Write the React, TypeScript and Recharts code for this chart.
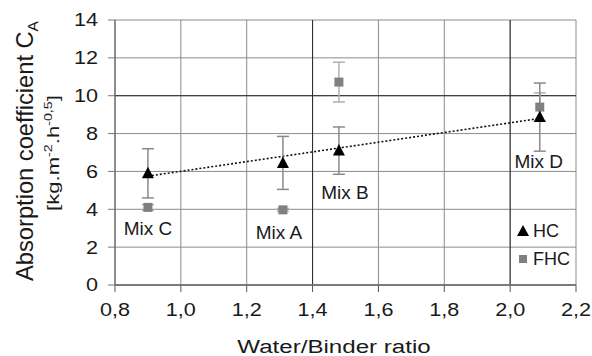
import React from "react";
import {
  ScatterChart,
  Scatter,
  XAxis,
  YAxis,
  CartesianGrid,
  ErrorBar,
  ReferenceLine,
} from "recharts";

// ---- data ----
const mixes = ["Mix C", "Mix A", "Mix B", "Mix D"];
const waterBinder = [0.9, 1.31, 1.48, 2.09];
const hcValues = [5.9, 6.45, 7.1, 8.87];
const hcErrors = [1.3, 1.4, 1.25, 1.8];
const fhcValues = [4.1, 3.97, 10.72, 9.4];
const fhcErrors = [0.15, 0.08, 1.05, 0.75];
const trendStart = { x: 0.9, y: 5.75 };
const trendEnd = { x: 2.09, y: 8.8 };
const xTicks = [0.8, 1.0, 1.2, 1.4, 1.6, 1.8, 2.0, 2.2];
const yTicks = [0, 2, 4, 6, 8, 10, 12, 14];
const seriesNames = ["HC", "FHC"];

const hcData = waterBinder.map((x, i) => ({ x, y: hcValues[i], err: hcErrors[i], name: mixes[i] }));
const fhcData = waterBinder.map((x, i) => ({ x, y: fhcValues[i], err: fhcErrors[i], name: mixes[i] }));

// ---- styles ----
const FONT = "'Liberation Sans', Arial, Helvetica, sans-serif";
const TEXT = "#1a1a1a";
const labelOffsets: Record<string, [number, number]> = {
  "Mix C": [0, 62],
  "Mix A": [-4, 76],
  "Mix B": [6, 48],
  "Mix D": [-1, 51],
};

const YTick = (p: any) => (
  <g transform={`translate(${p.x},${p.y})`}>
    <text transform="scale(1.2,1)" textAnchor="end" dy="0.36em" fontSize={18} fill={TEXT} fontFamily={FONT}>
      {p.payload.value}
    </text>
  </g>
);

const XTick = (p: any) => (
  <g transform={`translate(${p.x},${p.y})`}>
    <text transform="scale(1.2,1)" textAnchor="middle" dy="0.71em" fontSize={18} fill={TEXT} fontFamily={FONT}>
      {Number(p.payload.value).toFixed(1).replace(".", ",")}
    </text>
  </g>
);

const XTitle = () => (
  <text
    transform="translate(334,353) scale(1.27,1)"
    textAnchor="middle"
    fontSize={19}
    fill={TEXT}
    fontFamily={FONT}
  >
    Water/Binder ratio
  </text>
);

const YTitle = () => (
  <g fontFamily={FONT} fill={TEXT}>
    <text transform="translate(33,151) rotate(-90) scale(1.03,1)" textAnchor="middle" fontSize={23}>
      Absorption coefficient C
      <tspan fontSize={15} dy={5}>A</tspan>
    </text>
    <text transform="translate(59,153) rotate(-90) scale(1.3,1)" textAnchor="middle" fontSize={17}>
      [kg.m
      <tspan fontSize={11} dy={-7}>-2</tspan>
      <tspan dy={7}>.h</tspan>
      <tspan fontSize={11} dy={-7}>-0,5</tspan>
      <tspan dy={7}>]</tspan>
    </text>
  </g>
);

const TriangleShape = (p: any) => {
  const { cx, cy, payload } = p;
  const off = labelOffsets[payload.name] || [0, 40];
  return (
    <g>
      <polygon points={`${cx},${cy - 6.5} ${cx - 6},${cy + 5} ${cx + 6},${cy + 5}`} fill="#000" />
      <text
        x={cx + off[0]}
        y={cy + off[1]}
        textAnchor="middle"
        fontSize={19}
        fill={TEXT}
        fontFamily={FONT}
      >
        {payload.name}
      </text>
    </g>
  );
};

const SquareShape = (p: any) => {
  const { cx, cy } = p;
  return <rect x={cx - 4.5} y={cy - 4.5} width={9} height={9} fill="#808080" />;
};

const LegendBox = () => (
  <div
    style={{
      position: "absolute",
      left: 516,
      top: 217,
      fontFamily: FONT,
      fontSize: 18,
      color: TEXT,
      lineHeight: "20px",
    }}
  >
    <div style={{ display: "flex", alignItems: "center", height: 28 }}>
      <svg width={14} height={14} style={{ marginRight: 3 }}>
        <polygon points="7,1 1,12 13,12" fill="#000" />
      </svg>
      <span>{seriesNames[0]}</span>
    </div>
    <div style={{ display: "flex", alignItems: "center", height: 28 }}>
      <svg width={14} height={14} style={{ marginRight: 3 }}>
        <rect x={3} y={3} width={8} height={8} fill="#808080" />
      </svg>
      <span>{seriesNames[1]}</span>
    </div>
  </div>
);

export default function App() {
  return (
    <div style={{ position: "absolute", left: 0, top: 0, width: 592, height: 356, background: "#fff" }}>
      <ScatterChart width={592} height={356} margin={{ top: 20, right: 16, bottom: 41, left: 55 }}>
        <CartesianGrid stroke="#8c8c8c" strokeWidth={1} />
        <ReferenceLine y={10} stroke="#2a2a2a" strokeWidth={1} />
        <ReferenceLine x={1.4} stroke="#2a2a2a" strokeWidth={1} />
        <ReferenceLine x={2.0} stroke="#2a2a2a" strokeWidth={1} />
        <XAxis
          type="number"
          dataKey="x"
          domain={[0.8, 2.2]}
          ticks={xTicks}
          height={30}
          allowDataOverflow
          axisLine={{ stroke: "#7a7a7a", strokeWidth: 2 }}
          tickLine={{ stroke: "#555" }}
          tickSize={7}
          tickMargin={11}
          tick={<XTick />}
          label={{ content: <XTitle /> }}
        />
        <YAxis
          type="number"
          dataKey="y"
          domain={[0, 14]}
          ticks={yTicks}
          width={60}
          allowDataOverflow
          axisLine={{ stroke: "#555" }}
          tickLine={{ stroke: "#777" }}
          tickSize={7}
          tickMargin={10}
          tick={<YTick />}
          label={{ content: <YTitle /> }}
        />
        <ReferenceLine
          segment={[trendStart, trendEnd]}
          stroke="#111"
          strokeWidth={1.6}
          strokeDasharray="2 2"
        />
        <Scatter name={seriesNames[1]} data={fhcData} shape={<SquareShape />} isAnimationActive={false}>
          <ErrorBar dataKey="err" direction="y" width={6} stroke="#b0b0b0" strokeWidth={1.5} />
        </Scatter>
        <Scatter name={seriesNames[0]} data={hcData} shape={<TriangleShape />} isAnimationActive={false}>
          <ErrorBar dataKey="err" direction="y" width={6} stroke="#8a8a8a" strokeWidth={1.5} />
        </Scatter>
      </ScatterChart>
      <LegendBox />
    </div>
  );
}
